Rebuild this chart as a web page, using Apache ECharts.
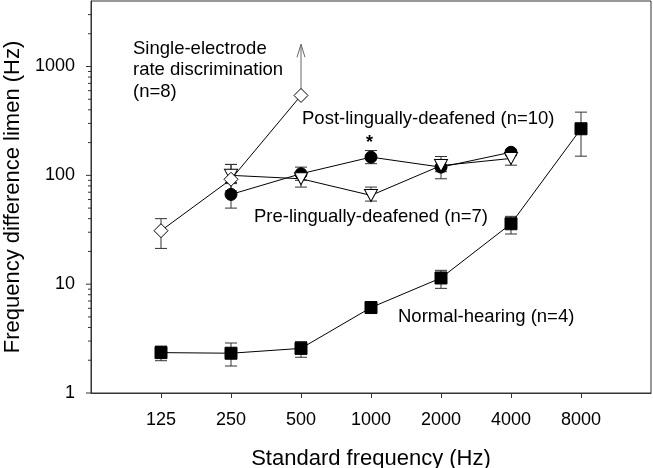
<!DOCTYPE html>
<html><head><meta charset="utf-8">
<script src="https://cdn.jsdelivr.net/npm/echarts@6/dist/echarts.min.js"></script>
<style>html,body{margin:0;padding:0;background:#fff}#c{width:653px;height:468px}</style>
</head><body><div id="c"></div>
<script>
const freqs = ['125','250','500','1000','2000','4000','8000'];
const yLabelValues = [1, 10, 100, 1000];
const yTickValues = [1,2,3,4,5,6,7,8,9,10,20,30,40,50,60,70,80,90,100,200,300,400,500,600,700,800,900,1000,2000,3000];

// Normal-hearing (n=4)
const normalIdx  = [0, 1, 2, 3, 4, 5, 6];
const normalMean = [2.35, 2.32, 2.57, 6.1, 11.4, 35.9, 268];
const normalLow  = [1.98, 1.77, 2.13, 5.7, 9.15, 28.9, 150];
const normalHigh = [2.70, 2.88, 2.97, 6.5, 13.4, 42, 381];

// Single-electrode rate discrimination (n=8)
const seIdx  = [0, 1, 2];
const seMean = [31, 92, 542];
const seLow  = [21.3, 72, 542];
const seHigh = [40, 126, 542];
const seArrowTop = 1600;

// Post-lingually-deafened (n=10)
const postIdx  = [1, 2, 3, 4, 5];
const postMean = [66.8, 103.5, 147, 119, 163];
const postLow  = [50, 90, 128, 93, 152];
const postHigh = [84, 119, 169, 149, 172];

// Pre-lingually-deafened (n=7)
const preIdx  = [1, 2, 3, 4, 5];
const preMean = [100, 93, 65.4, 123, 143];
const preLow  = [86, 78, 58, 108, 124];
const preHigh = [126, 104, 78, 140, 156];

const FONT = 'Liberation Sans, Arial, sans-serif';
const zip2 = (idx, v) => idx.map((x, i) => [x, v[i]]);
const zip3 = (idx, a, b) => idx.map((x, i) => [x, a[i], b[i]]);

function errRender(params, api) {
  const x = api.value(0), lo = api.value(1), hi = api.value(2);
  const p1 = api.coord([x, lo]), p2 = api.coord([x, hi]);
  const w = 6;
  const st = { stroke: '#333', lineWidth: 1 };
  return { type: 'group', children: [
    { type: 'line', shape: { x1: p1[0], y1: p1[1], x2: p2[0], y2: p2[1] }, style: st },
    { type: 'line', shape: { x1: p1[0]-w, y1: p1[1], x2: p1[0]+w, y2: p1[1] }, style: st },
    { type: 'line', shape: { x1: p2[0]-w, y1: p2[1], x2: p2[0]+w, y2: p2[1] }, style: st }
  ]};
}
function errSeries(data) {
  return { type: 'custom', renderItem: errRender, data: data, clip: false, silent: true, z: 1,
    encode: { x: 0, y: [1, 2] } };
}

const chart = echarts.init(document.getElementById('c'), null, { renderer: 'canvas' });
chart.setOption({
  animation: false,
  backgroundColor: '#fff',
  grid: { left: 91, right: 2, top: 1, bottom: 75, show: true, borderColor: '#333', borderWidth: 1,
    containLabel: false, outerBoundsMode: 'none' },
  xAxis: {
    type: 'value', min: -1, max: 7, interval: 1,
    name: 'Standard frequency (Hz)', nameLocation: 'middle', nameGap: 55,
    nameTextStyle: { fontSize: 22, color: '#000', fontFamily: FONT },
    axisLine: { onZero: false, lineStyle: { color: '#333' } },
    axisTick: { show: true, length: 5, inside: false, lineStyle: { color: '#333' }, customValues: [0,1,2,3,4,5,6] },
    axisLabel: { fontSize: 18, color: '#000', fontFamily: FONT, margin: 18,
      customValues: [0,1,2,3,4,5,6],
      formatter: v => (freqs[Math.round(v)] !== undefined && Math.abs(v - Math.round(v)) < 1e-6) ? freqs[Math.round(v)] : '' },
    splitLine: { show: false }
  },
  yAxis: {
    type: 'log', logBase: 10, min: 1, max: 4000,
    name: 'Frequency difference limen (Hz)', nameLocation: 'middle', nameGap: 67,
    nameTextStyle: { fontSize: 22, color: '#000', fontFamily: FONT },
    axisLine: { show: true, onZero: false, lineStyle: { color: '#333' } },
    axisTick: { show: false },
    axisLabel: { fontSize: 18, color: '#000', fontFamily: FONT, margin: 16,
      formatter: v => yLabelValues.some(t => Math.abs(t - v) / t < 1e-6) ? String(Math.round(v)) : '' },
    splitLine: { show: false }
  },
  series: [
    // y axis ticks (major and minor) placed with the log scale
    { type: 'custom', clip: false, silent: true, z: 1,
      data: yTickValues.map(v => [-1, v]),
      encode: { x: 0, y: 1 },
      renderItem: (params, api) => {
        const v = api.value(1);
        const p = api.coord([-1, v]);
        const major = yLabelValues.some(t => Math.abs(t - v) / t < 1e-6);
        const len = major ? 5 : 3;
        return { type: 'line', shape: { x1: p[0] - len, y1: p[1], x2: p[0], y2: p[1] },
          style: { stroke: '#333', lineWidth: 1 } };
      } },
    errSeries(zip3(normalIdx, normalLow, normalHigh)),
    errSeries(zip3(postIdx, postLow, postHigh)),
    errSeries(zip3(preIdx, preLow, preHigh)),
    errSeries(zip3(seIdx.slice(0, 2), seLow.slice(0, 2), seHigh.slice(0, 2))),
    // arrow above single-electrode 500 Hz
    { type: 'custom', clip: false, silent: true, z: 1,
      data: [[seIdx[2], seMean[2], seArrowTop]],
      encode: { x: 0, y: [1, 2] },
      renderItem: (params, api) => {
        const p1 = api.coord([api.value(0), api.value(1)]);
        const p2 = api.coord([api.value(0), api.value(2)]);
        const st = { stroke: '#666', lineWidth: 1, fill: null };
        return { type: 'group', children: [
          { type: 'line', shape: { x1: p1[0], y1: p1[1], x2: p2[0], y2: p2[1] }, style: st },
          { type: 'polyline', shape: { points: [[p2[0]-4, p2[1]+13], [p2[0], p2[1]], [p2[0]+4, p2[1]+13]] }, style: st }
        ]};
      } },
    { name: 'Normal-hearing', type: 'line', data: zip2(normalIdx, normalMean), z: 3,
      symbol: 'rect', symbolSize: 12,
      lineStyle: { color: '#000', width: 1 }, itemStyle: { color: '#000', borderColor: '#000' } },
    { name: 'Post', type: 'line', data: zip2(postIdx, postMean), z: 3,
      symbol: 'circle', symbolSize: 12,
      lineStyle: { color: '#000', width: 1 }, itemStyle: { color: '#000', borderColor: '#000' } },
    { name: 'Pre', type: 'line', data: zip2(preIdx, preMean), z: 3,
      symbol: 'triangle', symbolRotate: 180, symbolSize: [13, 12],
      lineStyle: { color: '#000', width: 1 }, itemStyle: { color: '#fff', borderColor: '#000', borderWidth: 1 } },
    { name: 'Single', type: 'line', data: zip2(seIdx, seMean), z: 3,
      symbol: 'diamond', symbolSize: [14, 14],
      lineStyle: { color: '#000', width: 1 }, itemStyle: { color: '#fff', borderColor: '#000', borderWidth: 1 } }
  ],
  graphic: [
    { type: 'text', left: 133, top: 38, style: { text: 'Single-electrode\nrate discrimination\n(n=8)', font: '18.5px ' + FONT, fill: '#000', lineHeight: 21.5 } },
    { type: 'text', left: 302, top: 109, style: { text: 'Post-lingually-deafened (n=10)', font: '18.5px ' + FONT, fill: '#000' } },
    { type: 'text', left: 254, top: 207, style: { text: 'Pre-lingually-deafened (n=7)', font: '18.5px ' + FONT, fill: '#000' } },
    { type: 'text', left: 398, top: 307, style: { text: 'Normal-hearing (n=4)', font: '18.5px ' + FONT, fill: '#000' } },
    { type: 'text', left: 366, top: 134, style: { text: '*', font: 'bold 18px ' + FONT, fill: '#000' } }
  ]
});
</script></body></html>
